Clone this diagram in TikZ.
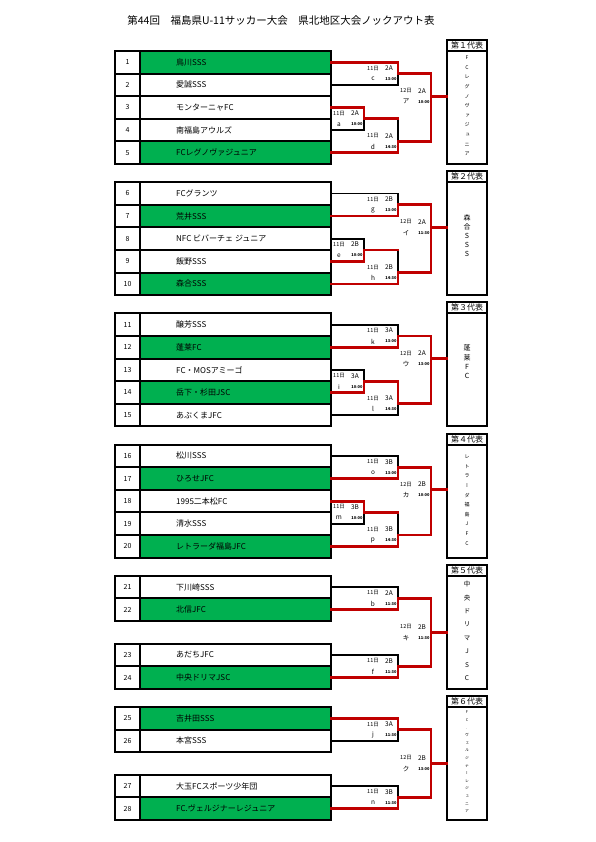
\documentclass[tikz,border=0pt]{standalone}
\usepackage{fontspec}
\setmainfont{Noto Sans CJK JP}
\newfontfamily\vertfont[RawFeature=+vert]{Noto Sans CJK JP}
\usetikzlibrary{positioning, calc}
\definecolor{wingreen}{HTML}{00B050}
\definecolor{winred}{HTML}{C00000}
\tikzstyle{cell} = [rectangle, draw=black, line width=2pt, outer sep=0pt, inner sep=0pt, minimum height=22.6pt]
\tikzstyle{numcell} = [cell, minimum width=25pt, font=\fontsize{7}{8}\selectfont]
\tikzstyle{teamcell} = [cell, minimum width=191pt]
\tikzstyle{teamname} = [inner sep=0pt, font=\fontsize{8}{9}\selectfont]
\tikzstyle{repbox} = [rectangle, draw=black, line width=2pt, outer sep=0pt, inner sep=0pt, minimum width=40pt, minimum height=113pt]
\tikzstyle{rephead} = [repbox, minimum height=11pt, font=\fontsize{8}{9}\selectfont]
\tikzstyle{reptext} = [align=center, inner sep=0pt]
\tikzstyle{loseline} = [line width=1.8pt, draw=black, line cap=rect]
\tikzstyle{winline} = [line width=2.8pt, draw=winred, line cap=rect]
\tikzstyle{daylabel} = [inner sep=0pt, font=\fontsize{5.5}{6}\selectfont]
\tikzstyle{courtlabel} = [inner sep=0pt, font=\fontsize{6.5}{7}\selectfont]
\tikzstyle{timelabel} = [inner sep=0pt, font=\bfseries\fontsize{4}{5}\selectfont]
\newcommand{\matchinfo}[5]{% junction, day, court, id, time
  \node[daylabel] (#1d) at ([xshift=-25pt, yshift=5.5pt]#1) {#2};
  \node[courtlabel] (#1c) at ([xshift=-9pt, yshift=5.5pt]#1) {#3};
  \node[courtlabel] (#1i) at ([xshift=-25pt, yshift=-5.5pt]#1) {#4};
  \node[timelabel] (#1t) at ([xshift=-7pt, yshift=-5.5pt]#1) {#5};
}

\begin{document}
\begin{tikzpicture}[x=1pt, y=-1pt]
    \useasboundingbox (0,0) rectangle (595,842);
    \node[font=\fontsize{10.5}{12}\selectfont] (title) at (281,21) {第44回　福島県U-11サッカー大会　県北地区大会ノックアウト表};

    % Team rows
    \foreach \num/\blk/\slot/\team/\cellfill in {
        1/0/0/鳥川SSS/wingreen, 2/0/1/愛誠SSS/white, 3/0/2/モンターニャFC/white,
        4/0/3/南福島アウルズ/white, 5/0/4/FCレグノヴァジュニア/wingreen,
        6/1/0/FCグランツ/white, 7/1/1/荒井SSS/wingreen, 8/1/2/NFC ビバーチェ ジュニア/white,
        9/1/3/飯野SSS/white, 10/1/4/森合SSS/wingreen,
        11/2/0/醸芳SSS/white, 12/2/1/蓬莱FC/wingreen, 13/2/2/FC・MOSアミーゴ/white,
        14/2/3/岳下・杉田JSC/wingreen, 15/2/4/あぶくまJFC/white,
        16/3/0/松川SSS/white, 17/3/1/ひろせJFC/wingreen, 18/3/2/1995二本松FC/white,
        19/3/3/清水SSS/white, 20/3/4/レトラーダ福島JFC/wingreen,
        21/4/0/下川崎SSS/white, 22/4/1/北信JFC/wingreen,
        23/4/3/あだちJFC/white, 24/4/4/中央ドリマJSC/wingreen,
        25/5/0/吉井田SSS/wingreen, 26/5/1/本宮SSS/white,
        27/5/3/大玉FCスポーツ少年団/white, 28/5/4/FC.ヴェルジナーレジュニア/wingreen} {
        \pgfmathsetmacro{\ypos}{51+131.2*\blk+(\slot+0.5)*22.6}
        \node[numcell] (n\num) at (127.5,\ypos) {\num};
        \node[teamcell, fill=\cellfill, right=0pt of n\num] (t\num) {};
        \node[teamname, right=36pt of t\num.west] (l\num) {\team};
    }

    % Representative boxes
    \node[repbox] (r1) at (467,107.5) {};
    \node[repbox] (r2) at (467,238.7) {};
    \node[repbox] (r3) at (467,369.9) {};
    \node[repbox] (r4) at (467,501.1) {};
    \node[repbox] (r5) at (467,632.3) {};
    \node[repbox] (r6) at (467,763.5) {};
    \node[rephead, above=0pt of r1] (h1) {第１代表};
    \node[rephead, above=0pt of r2] (h2) {第２代表};
    \node[rephead, above=0pt of r3] (h3) {第３代表};
    \node[rephead, above=0pt of r4] (h4) {第４代表};
    \node[rephead, above=0pt of r5] (h5) {第５代表};
    \node[rephead, above=0pt of r6] (h6) {第６代表};
    \node[reptext, font=\vertfont\fontsize{5}{9.6}\selectfont] (v1) at (467,106) {F\\C\\レ\\グ\\ノ\\ヴ\\ァ\\ジ\\ュ\\ニ\\ア};
    \node[reptext, font=\vertfont\fontsize{7}{9}\selectfont] (v2) at (467,236) {森\\合\\S\\S\\S};
    \node[reptext, font=\vertfont\fontsize{7}{9.4}\selectfont] (v3) at (467,362) {蓬\\莱\\F\\C};
    \node[reptext, font=\vertfont\fontsize{5}{9.6}\selectfont] (v4) at (467,500) {レ\\ト\\ラ\\ー\\ダ\\福\\島\\J\\F\\C};
    \node[reptext, font=\vertfont\fontsize{6.5}{13.4}\selectfont] (v5) at (467,631) {中\\央\\ド\\リ\\マ\\J\\S\\C};
    \node[reptext, font=\vertfont\fontsize{3.8}{7.6}\selectfont] (v6) at (467,762) {F\\C\\.\\ヴ\\ェ\\ル\\ジ\\ナ\\ー\\レ\\ジ\\ュ\\ニ\\ア};

    % Block 1
    \coordinate (jc) at (398,73.6);
    \coordinate (ja) at (364,118.8);
    \coordinate (jd) at (398,141.4);
    \coordinate (jA) at (431,96.2);
    \draw[loseline] (t2.east) -| (jc);
    \draw[loseline] (t4.east) -| (ja);
    \draw[loseline] (ja -| jd) -- (jd);
    \draw[winline] (t1.east) -| (jc) -- (jc -| jA);
    \draw[winline] (t3.east) -| (ja) -- (ja -| jd);
    \draw[winline] (t5.east) -| (jd) -- (jd -| jA);
    \draw[winline] (jc -| jA) -- (jd -| jA);
    \draw[winline] (jA) -- (jA -| r1.west);
    \matchinfo{jc}{11日}{2A}{c}{13:00}
    \matchinfo{ja}{11日}{2A}{a}{10:00}
    \matchinfo{jd}{11日}{2A}{d}{14:30}
    \matchinfo{jA}{12日}{2A}{ア}{10:00}

    % Block 2
    \coordinate (jg) at (398,204.8);
    \coordinate (je) at (364,250);
    \coordinate (jh) at (398,272.6);
    \coordinate (jI) at (431,227.4);
    \draw[loseline] (t6.east) -| (jg);
    \draw[loseline] (t8.east) -| (je);
    \draw[loseline] (je -| jh) -- (jh);
    \draw[winline] (t7.east) -| (jg) -- (jg -| jI);
    \draw[winline] (t9.east) -| (je) -- (je -| jh);
    \draw[winline] (t10.east) -| (jh) -- (jh -| jI);
    \draw[winline] (jg -| jI) -- (jh -| jI);
    \draw[winline] (jI) -- (jI -| r2.west);
    \matchinfo{jg}{11日}{2B}{g}{13:00}
    \matchinfo{je}{11日}{2B}{e}{10:00}
    \matchinfo{jh}{11日}{2B}{h}{14:30}
    \matchinfo{jI}{12日}{2A}{イ}{11:30}

    % Block 3
    \coordinate (jk) at (398,336);
    \coordinate (ji) at (364,381.2);
    \coordinate (jl) at (398,403.8);
    \coordinate (jU) at (431,358.6);
    \draw[loseline] (t11.east) -| (jk);
    \draw[loseline] (t13.east) -| (ji);
    \draw[loseline] (t15.east) -| (jl);
    \draw[winline] (t12.east) -| (jk) -- (jk -| jU);
    \draw[winline] (t14.east) -| (ji) -- (ji -| jl) -- (jl) -- (jl -| jU);
    \draw[winline] (jk -| jU) -- (jl -| jU);
    \draw[winline] (jU) -- (jU -| r3.west);
    \matchinfo{jk}{11日}{3A}{k}{13:00}
    \matchinfo{ji}{11日}{3A}{i}{10:00}
    \matchinfo{jl}{11日}{3A}{l}{14:30}
    \matchinfo{jU}{12日}{2A}{ウ}{13:00}

    % Block 4
    \coordinate (jo) at (398,467.2);
    \coordinate (jm) at (364,512.4);
    \coordinate (jp) at (398,535);
    \coordinate (jKa) at (431,489.8);
    \draw[loseline] (t16.east) -| (jo);
    \draw[loseline] (t19.east) -| (jm);
    \draw[loseline] (jm -| jp) -- (jp);
    \draw[winline] (t17.east) -| (jo) -- (jo -| jKa);
    \draw[winline] (t18.east) -| (jm) -- (jm -| jp);
    \draw[winline] (t20.east) -| (jp) -- (jp -| jKa);
    \draw[winline] (jo -| jKa) -- (jp -| jKa);
    \draw[winline] (jKa) -- (jKa -| r4.west);
    \matchinfo{jo}{11日}{3B}{o}{13:00}
    \matchinfo{jm}{11日}{3B}{m}{10:00}
    \matchinfo{jp}{11日}{3B}{p}{14:30}
    \matchinfo{jKa}{12日}{2B}{カ}{10:00}

    % Block 5
    \coordinate (jb) at (398,598.4);
    \coordinate (jf) at (398,666.2);
    \coordinate (jKi) at (431,632.3);
    \draw[loseline] (t21.east) -| (jb);
    \draw[loseline] (t23.east) -| (jf);
    \draw[winline] (t22.east) -| (jb) -- (jb -| jKi);
    \draw[winline] (t24.east) -| (jf) -- (jf -| jKi);
    \draw[winline] (jb -| jKi) -- (jf -| jKi);
    \draw[winline] (jKi) -- (jKi -| r5.west);
    \matchinfo{jb}{11日}{2A}{b}{11:30}
    \matchinfo{jf}{11日}{2B}{f}{11:30}
    \matchinfo{jKi}{12日}{2B}{キ}{11:30}

    % Block 6
    \coordinate (jj) at (398,729.6);
    \coordinate (jn) at (398,797.4);
    \coordinate (jKu) at (431,763.5);
    \draw[loseline] (t26.east) -| (jj);
    \draw[loseline] (t27.east) -| (jn);
    \draw[winline] (t25.east) -| (jj) -- (jj -| jKu);
    \draw[winline] (t28.east) -| (jn) -- (jn -| jKu);
    \draw[winline] (jj -| jKu) -- (jn -| jKu);
    \draw[winline] (jKu) -- (jKu -| r6.west);
    \matchinfo{jj}{11日}{3A}{j}{11:30}
    \matchinfo{jn}{11日}{3B}{n}{11:30}
    \matchinfo{jKu}{12日}{2B}{ク}{13:00}
\end{tikzpicture}
\end{document}
